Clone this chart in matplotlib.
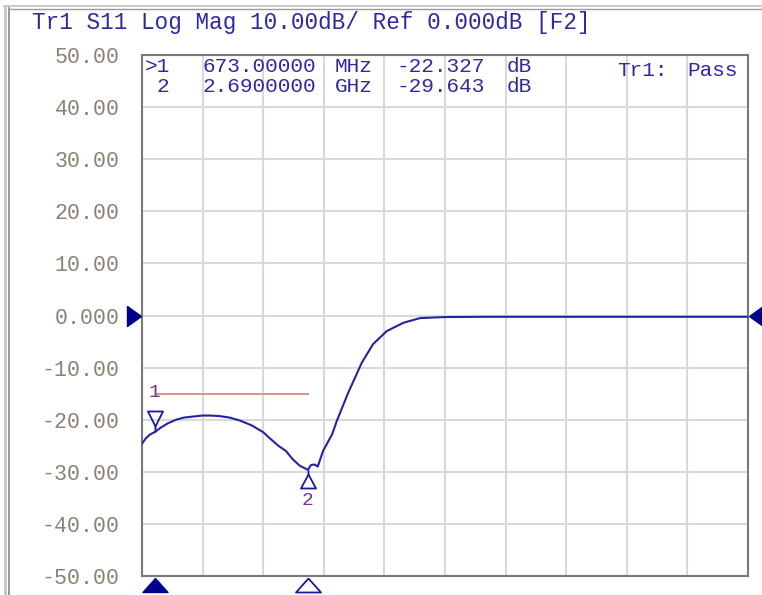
import numpy as np
from matplotlib import pyplot as plt
from matplotlib.path import Path
from matplotlib.lines import Line2D

# Trace data (S11 log mag)
freq_ghz = [0.50, 0.55, 0.60, 0.673, 0.75, 0.84, 0.95, 1.05, 1.17, 1.30, 1.40, 1.52, 1.66, 1.80,
            1.95, 2.10, 2.19, 2.30, 2.40, 2.49, 2.58, 2.69, 2.73, 2.78, 2.82, 2.89, 3.01, 3.07,
            3.22, 3.40, 3.55, 3.73, 3.95, 4.17, 4.50, 5.00, 8.50]
s11_db = [-24.6, -23.6, -22.9, -22.327, -21.5, -20.7, -20.0, -19.6, -19.4, -19.2, -19.2, -19.3,
          -19.6, -20.2, -21.1, -22.4, -23.6, -25.0, -26.0, -27.6, -28.8, -29.643, -28.7, -28.6,
          -29.0, -26.0, -22.8, -20.3, -14.9, -9.1, -5.5, -3.0, -1.4, -0.5, -0.3, -0.25, -0.25]

# Markers
marker_freq = [0.673, 2.69]
marker_db = [-22.327, -29.643]
marker_rows = [['>1', '673.00000', 'MHz', '-22.327', 'dB'],
               ['2', '2.6900000', 'GHz', '-29.643', 'dB']]

# Limit line
limit_freq = [0.70, 2.69]
limit_db = [-15, -15]

# Axis
freq_start, freq_stop = 0.5, 8.5
y_ticks = [-50, -40, -30, -20, -10, 0, 10, 20, 30, 40, 50]
y_tick_labels = ['-50.00', '-40.00', '-30.00', '-20.00', '-10.00', '0.000',
                 '10.00', '20.00', '30.00', '40.00', '50.00']
header = 'Tr1 S11 Log Mag 10.00dB/ Ref 0.000dB [F2]'

# Styles
W, H = 762, 595
mono = 'Liberation Mono'
text_color = '#2f2aa0'
tick_color = '#8a8275'
trace_color = '#2424a0'
marker_color = '#1a1a9a'
grid_color = '#d9d9d9'


def px_marker(verts, codes=None):
    # marker path given in pixels, anchor at (0, 0)
    v = np.array(verts, dtype=float)
    size = 2 * np.abs(v).max() * 72 / 100
    return Path(v, codes), size


def ftext(x_px, y_px, s, **kw):
    fig.text(x_px / W, 1 - y_px / H, s, va='center', family=mono, **kw)


fig = plt.figure(figsize=(W / 100, H / 100), dpi=100)
ax = fig.add_axes([142 / W, (H - 576) / H, (748 - 142) / W, (576 - 55) / H])

ax.set_xlim(freq_start, freq_stop)
ax.set_ylim(-50, 50)
ax.set_xticks(np.linspace(freq_start, freq_stop, 11))
ax.set_xticklabels([])
ax.set_yticks(y_ticks)
ax.set_yticklabels(y_tick_labels, family=mono, fontsize=15.6, color=tick_color)
ax.tick_params(length=0, pad=16)
ax.grid(color=grid_color, lw=1.5, zorder=0)
for sp in ax.spines.values():
    sp.set_color('#7a7a7a')
    sp.set_linewidth(1.5)

# trace and limit line
ax.plot(limit_freq, limit_db, color='#d88a80', lw=1.3, zorder=2)
ax.plot(freq_ghz, s11_db, color=trace_color, lw=1.5, zorder=3)

# marker 1 (above trace, pointing down)
codes1 = [Path.MOVETO, Path.LINETO, Path.MOVETO, Path.LINETO, Path.LINETO, Path.CLOSEPOLY]
m1, s1 = px_marker([(0, 0), (0, 6), (0, 6), (-7.5, 21), (7.5, 21), (0, 6)], codes1)
ax.plot(marker_freq[0], marker_db[0], marker=m1, markersize=s1, mfc='none', mec=marker_color,
        mew=1.3, zorder=4)
ax.annotate('1', (marker_freq[0], marker_db[0]), xytext=(-0.5, 28), textcoords='offset points',
            ha='center', va='center', family=mono, fontsize=14, color='#7a3090')

# marker 2 (below trace, pointing up)
m2, s2 = px_marker([(0, 0), (0, -4), (0, -4), (-7.5, -18), (7.5, -18), (0, -4)], codes1)
ax.plot(marker_freq[1], marker_db[1], marker=m2, markersize=s2, mfc='none', mec=marker_color,
        mew=1.3, zorder=4)
ax.annotate('2', (marker_freq[1], marker_db[1]), xytext=(0, -22), textcoords='offset points',
            ha='center', va='center', family=mono, fontsize=14, color='#7a3090')

# stimulus markers under the axis
tri_up, s_up = px_marker([(0, -2), (-12.5, -16), (12.5, -16), (0, -2)])
ax.plot(marker_freq[0], -50, marker=tri_up, markersize=s_up, color='#00008b', mec='#00008b',
        clip_on=False, zorder=5)
ax.plot(marker_freq[1], -50, marker=tri_up, markersize=s_up, mfc='white', mec=marker_color,
        mew=1.3, clip_on=False, zorder=5)

# reference level arrows
ref_l, s_l = px_marker([(-1, 0), (-15, 10), (-15, -10), (-1, 0)])
ax.plot(freq_start, 0, marker=ref_l, markersize=s_l, color='#00008b', clip_on=False, zorder=5)
ref_r, s_r = px_marker([(1, 0), (15, 10), (15, -10), (1, 0)])
ax.plot(freq_stop, 0, marker=ref_r, markersize=s_r, color='#00008b', clip_on=False, zorder=5)

# window frame
fig.add_artist(Line2D([4.5 / W, 4.5 / W], [0, 1 - 7 / H], color='#c8c8c8', lw=2.2))
fig.add_artist(Line2D([9 / W, 9 / W], [0, 1 - 8 / H], color='#8e8e8e', lw=1.3))
fig.add_artist(Line2D([4 / W, 1], [1 - 6 / H, 1 - 6 / H], color='#c8c8c8', lw=1.4))
fig.add_artist(Line2D([9 / W, 1], [1 - 8.5 / H, 1 - 8.5 / H], color='#9a9a9a', lw=1.0))

# header and marker readout
ftext(32, 22, header, fontsize=16.3, color=text_color)
col_x = [145, 203, 335, 397, 507]
row_y = [67, 87]
for row, y in zip(marker_rows, row_y):
    for j, (s, x) in enumerate(zip(row, col_x)):
        if j == 0 and s == '2':
            x = 156
        ftext(x, y, s, fontsize=15.2, color=text_color)
ftext(617, 71, 'Tr1:', fontsize=15.2, color=text_color)
ftext(687, 71, 'Pass', fontsize=15.2, color=text_color)

fig.savefig('out.png', dpi=100)
